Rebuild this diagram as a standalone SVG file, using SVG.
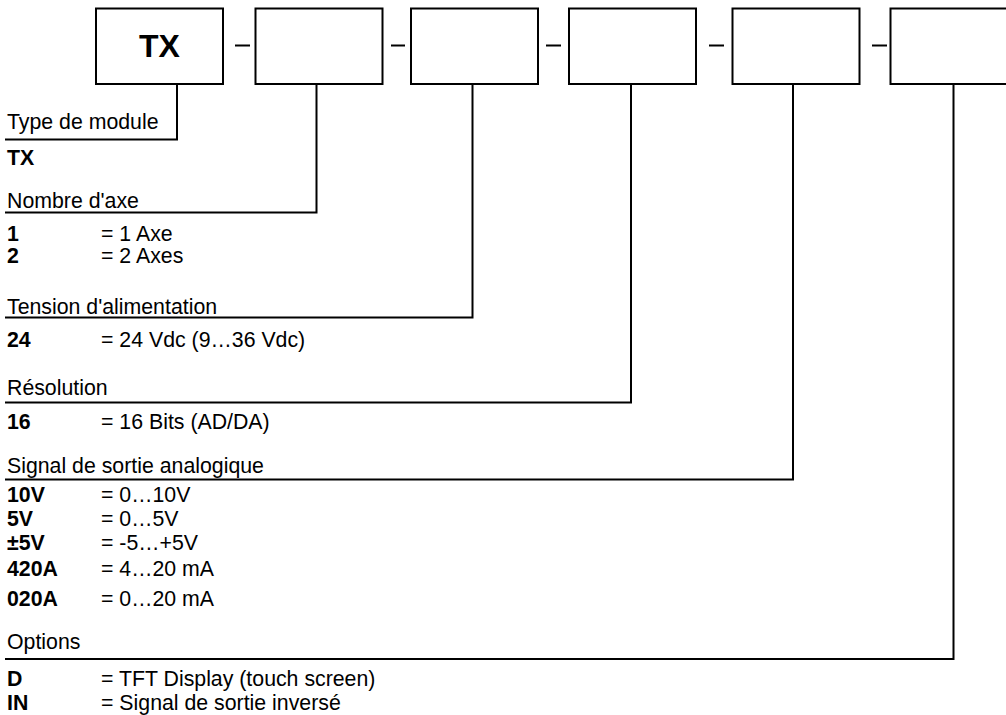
<svg xmlns="http://www.w3.org/2000/svg" width="1006" height="715" viewBox="0 0 1006 715">
<style>
.box{fill:#fff;stroke:#000;stroke-width:2}
.dash{stroke:#000;stroke-width:2}
.con{fill:none;stroke:#000;stroke-width:2}
text{font-family:"Liberation Sans",Arial,sans-serif;font-size:21.3px;fill:#000}
.b{font-weight:bold}
.big{font-size:32px;font-weight:bold}
</style>
<rect width="1006" height="715" fill="#fff"/>
<g id="box-tx"><rect class="box" x="96" y="8.5" width="127" height="75.5"/><text class="big" x="159.5" y="56.5" text-anchor="middle">TX</text></g>
<g id="box-axes"><rect class="box" x="255.5" y="8.5" width="127" height="75.5"/></g>
<g id="box-tension"><rect class="box" x="411" y="8.5" width="127" height="75.5"/></g>
<g id="box-resolution"><rect class="box" x="569" y="8.5" width="127" height="75.5"/></g>
<g id="box-signal"><rect class="box" x="732.5" y="8.5" width="127" height="75.5"/></g>
<g id="box-options"><rect class="box" x="890.5" y="8.5" width="127" height="75.5"/></g>
<g id="dashes">
<line class="dash" x1="235" y1="45.5" x2="250" y2="45.5"/>
<line class="dash" x1="391" y1="45.5" x2="405" y2="45.5"/>
<line class="dash" x1="546" y1="45.5" x2="561" y2="45.5"/>
<line class="dash" x1="709" y1="45.5" x2="724" y2="45.5"/>
<line class="dash" x1="872" y1="45.5" x2="887" y2="45.5"/>
</g>
<g id="connectors">
<polyline class="con" points="177,84 177,139.5 5,139.5"/>
<polyline class="con" points="316.5,84 316.5,212.5 5,212.5"/>
<polyline class="con" points="472.5,84 472.5,317.5 5,317.5"/>
<polyline class="con" points="631,84 631,402.5 5,402.5"/>
<polyline class="con" points="793,84 793,479.5 5,479.5"/>
<polyline class="con" points="953.5,84 953.5,659 5,659"/>
</g>
<g id="sec-type">
<text x="7" y="128.5">Type de module</text>
<text class="b" x="7" y="165">TX</text>
</g>
<g id="sec-axes">
<text x="7" y="208">Nombre d'axe</text>
<text class="b" x="7" y="241">1</text><text x="101" y="241">= 1 Axe</text>
<text class="b" x="7" y="263">2</text><text x="101" y="263">= 2 Axes</text>
</g>
<g id="sec-tension">
<text x="7" y="313.5">Tension d'alimentation</text>
<text class="b" x="7" y="346.5">24</text><text x="101" y="346.5">= 24 Vdc (9…36 Vdc)</text>
</g>
<g id="sec-resolution">
<text x="7" y="395">Résolution</text>
<text class="b" x="7" y="428.5">16</text><text x="101" y="428.5">= 16 Bits (AD/DA)</text>
</g>
<g id="sec-signal">
<text x="7" y="473">Signal de sortie analogique</text>
<text class="b" x="7" y="502">10V</text><text x="101" y="502">= 0…10V</text>
<text class="b" x="7" y="526">5V</text><text x="101" y="526">= 0…5V</text>
<text class="b" x="7" y="550">±5V</text><text x="101" y="550">= -5…+5V</text>
<text class="b" x="7" y="576">420A</text><text x="101" y="576">= 4…20 mA</text>
<text class="b" x="7" y="606">020A</text><text x="101" y="606">= 0…20 mA</text>
</g>
<g id="sec-options">
<text x="7" y="649">Options</text>
<text class="b" x="7" y="686">D</text><text x="101" y="686">= TFT Display (touch screen)</text>
<text class="b" x="7" y="709.5">IN</text><text x="101" y="709.5">= Signal de sortie inversé</text>
</g>
</svg>
